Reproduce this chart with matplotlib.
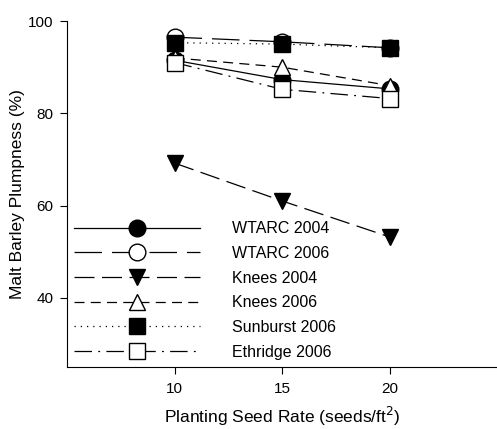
import numpy as np
import matplotlib
matplotlib.use('Agg')
import matplotlib.pyplot as plt

plt.rcParams['font.family'] = ['Liberation Sans', 'DejaVu Sans']
plt.rcParams['font.size'] = 11

# data
rates = [10, 15, 20]
wtarc_2004 = [91.5, 87.3, 85.3]
wtarc_2006 = [96.5, 95.5, 94.2]
knees_2004 = [69.2, 61.0, 53.2]
knees_2006 = [92.0, 90.0, 86.0]
sunburst_2006 = [95.3, 95.0, 94.2]
ethridge_2006 = [91.0, 85.2, 83.2]

labels = ['WTARC 2004', 'WTARC 2006', 'Knees 2004', 'Knees 2006',
          'Sunburst 2006', 'Ethridge 2006']

fig = plt.figure(figsize=(4.97, 4.29), dpi=100)
ax = fig.add_axes([0.135, 0.1445, 0.865, 0.8065])

ms = 12
ax.plot(rates, wtarc_2004, '-', color='black', lw=0.9, marker='o', ms=ms,
        mfc='black', mec='black', label=labels[0])
ax.plot(rates, wtarc_2006, color='black', lw=0.9, ls=(0, (22, 8)), marker='o', ms=ms,
        mfc='white', mec='black', label=labels[1])
ax.plot(rates, knees_2004, color='black', lw=0.9, ls=(0, (16, 6)), marker='v', ms=ms,
        mfc='black', mec='black', label=labels[2])
ax.plot(rates, knees_2006, color='black', lw=0.9, ls=(0, (8, 5)), marker='^', ms=ms,
        mfc='white', mec='black', label=labels[3])
ax.plot(rates, sunburst_2006, color='black', lw=0.9, ls=(0, (1, 4)), marker='s', ms=ms - 1,
        mfc='black', mec='black', label=labels[4])
ax.plot(rates, ethridge_2006, color='black', lw=0.9, ls=(0, (14, 5, 1.5, 5)), marker='s', ms=ms - 1,
        mfc='white', mec='black', label=labels[5])

ax.set_xlim(5, 25)
ax.set_ylim(25, 100)
ax.set_xticks([10, 15, 20])
ax.set_yticks([40, 60, 80, 100])
ax.spines['top'].set_visible(False)
ax.spines['right'].set_visible(False)
ax.tick_params(direction='out', length=5, width=0.8, labelsize=11)
ax.tick_params(axis='x', pad=5.5)
ax.tick_params(axis='y', pad=5)

ax.set_xlabel('Planting Seed Rate (seeds/ft$^2$)', fontsize=12.5, labelpad=7)
ax.set_ylabel('Malt Barley Plumpness (%)', fontsize=12.5, labelpad=2)

leg = ax.legend(loc='lower left', bbox_to_anchor=(0.0, 0.0), frameon=False,
                handlelength=7.9, handletextpad=2.0, labelspacing=0.61,
                borderaxespad=0.15, borderpad=0.3, fontsize=11.5)

plt.savefig('out.png', dpi=100)
